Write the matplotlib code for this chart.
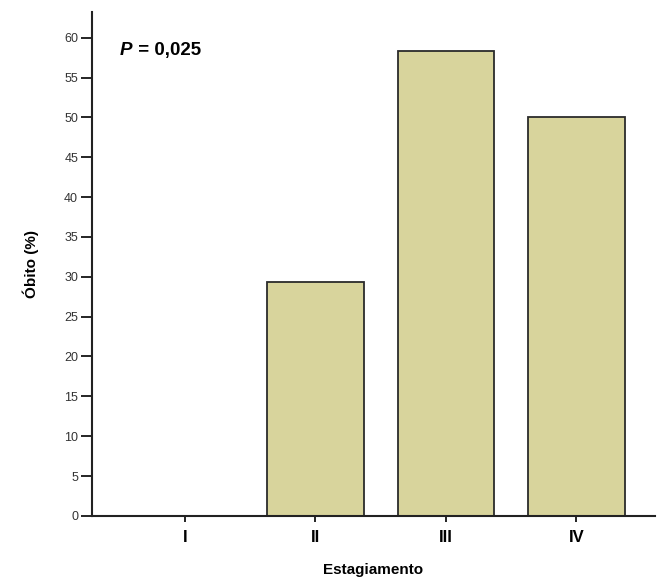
import matplotlib.pyplot as plt
import numpy as np

plt.rcParams['font.family'] = ['Liberation Sans', 'DejaVu Sans']

stages = ['I', 'II', 'III', 'IV']
obito_pct = [0.0, 29.4, 58.3, 50.0]
p_value = '0,025'

fig = plt.figure(figsize=(6.62, 5.79), dpi=100)
ax = fig.add_axes([0.139, 0.109, 0.850, 0.870])

x = np.arange(len(stages))
ax.bar(x, obito_pct, width=0.74, color='#d8d49c', edgecolor='#2b2b2b', linewidth=1.3)

ax.set_xlim(-0.71, 3.6)
ax.set_ylim(0, 63.2)
ax.set_yticks(np.arange(0, 61, 5))
ax.set_xticks(x)
ax.set_xticklabels(stages, fontsize=12, fontweight='bold')

ax.spines['top'].set_visible(False)
ax.spines['right'].set_visible(False)
for s in ('left', 'bottom'):
    ax.spines[s].set_linewidth(1.5)
    ax.spines[s].set_color('#222222')

ax.tick_params(axis='y', length=8, width=1.2, labelsize=9, labelcolor='#333333', pad=2)
ax.tick_params(axis='x', length=4, width=1.2, pad=6)

ax.set_ylabel('Óbito (%)', fontsize=11, fontweight='bold', labelpad=18)
ax.set_xlabel('Estagiamento', fontsize=11, fontweight='bold', labelpad=13)

# P value: italic P followed by the rest in bold upright
p_txt = ax.text(0.05, 0.94, 'P', transform=ax.transAxes, fontsize=13.5,
                fontweight='bold', fontstyle='italic', va='top', ha='left')
ax.annotate(' = ' + p_value, xy=(1, 0), xycoords=p_txt, fontsize=13.5,
            fontweight='bold', va='bottom', ha='left')

fig.savefig('out.png', dpi=100)
